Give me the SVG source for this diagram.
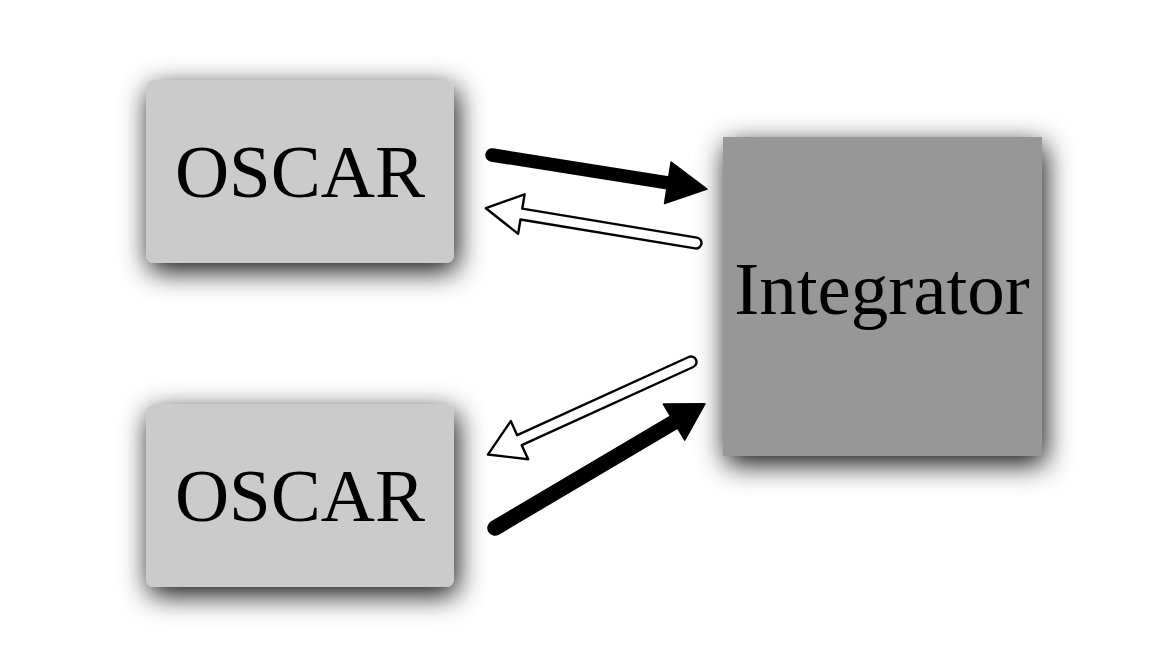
<svg xmlns="http://www.w3.org/2000/svg" width="1158" height="656" viewBox="0 0 1158 656">
<style>
.lbl{font-family:"Liberation Serif","Times New Roman",serif;font-size:75px;fill:#000;text-anchor:middle}
.osc{fill:#cbcbcb}
.int{fill:#979797}
.solid{fill:#000;stroke:#000;stroke-width:1.5;stroke-linejoin:round}
.hollow{fill:#fff;stroke:#000;stroke-width:2.4;stroke-linejoin:round}
</style>
<defs>
<filter id="sh" x="-50%" y="-50%" width="200%" height="200%">
<feDropShadow dx="3" dy="8" stdDeviation="14" flood-color="#000" flood-opacity="0.95"/>
</filter>
</defs>
<rect width="1158" height="656" fill="#fff"/>
<g id="oscar1">
<rect class="osc" x="146" y="80" width="308" height="183" rx="8" filter="url(#sh)"/>
<text class="lbl" x="300" y="197">OSCAR</text>
</g>
<g id="oscar2">
<rect class="osc" x="146" y="404" width="308" height="183" rx="8" filter="url(#sh)"/>
<text class="lbl" x="300" y="521">OSCAR</text>
</g>
<g id="integrator">
<rect class="int" x="723" y="137" width="319" height="319" filter="url(#sh)"/>
<text class="lbl" x="882" y="314">Integrator</text>
</g>
<g id="connectors">
<path class="solid" transform="translate(492,155) rotate(8.99)" d="M0,-6 L178,-6 L178,-21 L217.7,0 L178,21 L178,6 L0,6 A6,6 0 0 1 0,-6 Z"/>
<path class="hollow" transform="translate(696,243) rotate(189.4)" d="M0,-5.5 L177,-5.5 L177,-20 L213,0 L177,20 L177,5.5 L0,5.5 A5.5,5.5 0 0 1 0,-5.5 Z"/>
<path class="hollow" transform="translate(691,362) rotate(155.5)" d="M0,-5.5 L188.5,-5.5 L188.5,-21 L223.2,0 L188.5,21 L188.5,5.5 L0,5.5 A5.5,5.5 0 0 1 0,-5.5 Z"/>
<path class="solid" transform="translate(495,528) rotate(-30.6)" d="M0,-7 L208,-7 L208,-21 L243.9,0 L208,21 L208,7 L0,7 A7,7 0 0 1 0,-7 Z"/>
</g>
</svg>
